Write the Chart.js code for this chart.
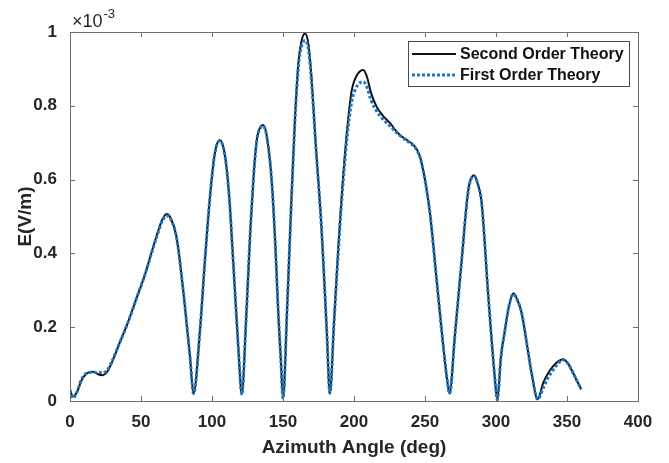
<!DOCTYPE html>
<html>
<head>
<meta charset="utf-8">
<script src="https://cdn.jsdelivr.net/npm/chart.js@4"></script>
<style>
  html, body { margin: 0; padding: 0; background: #fff; }
  #wrap { width: 669px; height: 463px; }
</style>
</head>
<body>
<div id="wrap"><canvas id="fieldChart" width="669" height="463"></canvas></div>
<script>
const angles = [
  0, 2, 5, 8, 12, 16, 20, 23, 26, 29, 35, 41, 47, 53, 58, 62, 65, 68, 71, 75, 80,
  84.5, 87, 91.5, 95, 98.6, 102, 105.5, 109, 112, 115, 118.5, 121, 124, 127, 129.5, 131.5,
  134, 136, 138.5, 142, 144.5, 146.7, 148.5, 150, 153, 156, 158.5, 160.8, 163, 165.5,
  168, 170.2, 173, 177.2, 180.8, 183, 186, 189, 191.3, 195, 198.4, 201, 204, 206.5,
  209, 212, 216, 220, 225.4, 229, 232.4, 237, 241.8, 244.5, 246.5, 250, 253.5, 258.2,
  262.9, 265.5, 267.3, 271, 275.8, 280.5, 284.7, 287, 289.9, 294.6, 299.3, 300.9,
  303.5, 306.3, 309, 312.2, 315, 318.1, 321.5, 325.1, 329.3, 333.3, 336.5, 340.4,
  344, 347.4, 351, 354.4, 358, 360
];

// E (V/m) x 1e-3
const secondOrder = [
  0.030, 0.012, 0.025, 0.055, 0.075, 0.079, 0.072, 0.070, 0.078, 0.100, 0.158, 0.215, 0.280, 0.345, 0.410, 0.460, 0.492, 0.507, 0.495, 0.445, 0.290,
  0.120, 0.020, 0.190, 0.380, 0.554, 0.671, 0.707, 0.668, 0.560, 0.373, 0.147, 0.018, 0.220, 0.463, 0.620, 0.707,
  0.742, 0.748, 0.720, 0.599, 0.430, 0.238, 0.110, 0.007, 0.260, 0.554, 0.770, 0.915, 0.975, 0.996,
  0.965, 0.870, 0.700, 0.463, 0.192, 0.021, 0.220, 0.420, 0.554, 0.730, 0.842, 0.875, 0.893, 0.897,
  0.880, 0.835, 0.797, 0.775, 0.753, 0.735, 0.721, 0.708, 0.694, 0.680, 0.662, 0.600, 0.509, 0.328,
  0.147, 0.060, 0.020, 0.175, 0.380, 0.572, 0.612, 0.590, 0.536, 0.283, 0.057, 0.003,
  0.120, 0.192, 0.255, 0.292, 0.275, 0.238, 0.160, 0.075, 0.005, 0.050, 0.074, 0.095,
  0.108, 0.113, 0.100, 0.075, 0.047, 0.032
];

const firstOrder = [
  0.030, 0.008, 0.025, 0.058, 0.076, 0.078, 0.077, 0.077, 0.083, 0.103, 0.158, 0.215, 0.280, 0.345, 0.408, 0.456, 0.488, 0.502, 0.492, 0.443, 0.290,
  0.120, 0.020, 0.190, 0.380, 0.554, 0.671, 0.705, 0.667, 0.560, 0.373, 0.147, 0.018, 0.220, 0.463, 0.620, 0.705,
  0.740, 0.745, 0.718, 0.599, 0.430, 0.238, 0.110, 0.007, 0.260, 0.550, 0.765, 0.905, 0.960, 0.977,
  0.950, 0.860, 0.695, 0.463, 0.192, 0.021, 0.215, 0.410, 0.540, 0.710, 0.812, 0.845, 0.862, 0.865,
  0.852, 0.815, 0.785, 0.765, 0.745, 0.731, 0.719, 0.706, 0.692, 0.678, 0.660, 0.598, 0.509, 0.328,
  0.147, 0.060, 0.020, 0.175, 0.380, 0.570, 0.610, 0.590, 0.536, 0.283, 0.057, 0.003,
  0.120, 0.192, 0.255, 0.290, 0.274, 0.238, 0.160, 0.075, 0.005, 0.035, 0.062, 0.085,
  0.103, 0.111, 0.100, 0.075, 0.047, 0.032
];

const xTicks = [0, 50, 100, 150, 200, 250, 300, 350, 400];
const yTicks = [0, 0.2, 0.4, 0.6, 0.8, 1];
const seriesLabels = ["Second Order Theory", "First Order Theory"];

const AXIS_COLOR = "#6e6e6e";
const FONT = "'Liberation Sans', Arial, Helvetica, sans-serif";

const toPoints = (vals) => angles.map((a, i) => ({ x: a, y: vals[i] }));

// MATLAB-like box, inward ticks, legend and the exponent label
const matlabAxes = {
  id: "matlabAxes",
  afterDatasetsDraw(chart) {
    const { ctx, chartArea: ca, scales } = chart;
    const tick = 5;
    ctx.save();
    ctx.strokeStyle = AXIS_COLOR;
    ctx.lineWidth = 1;
    ctx.strokeRect(ca.left + 0.5, ca.top + 0.5, ca.right - ca.left, ca.bottom - ca.top);

    ctx.beginPath();
    xTicks.forEach((v) => {
      const px = Math.round(scales.x.getPixelForValue(v)) + 0.5;
      ctx.moveTo(px, ca.bottom);
      ctx.lineTo(px, ca.bottom - tick);
      ctx.moveTo(px, ca.top);
      ctx.lineTo(px, ca.top + tick);
    });
    yTicks.forEach((v) => {
      const py = Math.round(scales.y.getPixelForValue(v)) + 0.5;
      ctx.moveTo(ca.left, py);
      ctx.lineTo(ca.left + tick, py);
      ctx.moveTo(ca.right, py);
      ctx.lineTo(ca.right - tick, py);
    });
    ctx.stroke();

    // exponent label
    ctx.fillStyle = "#262626";
    ctx.textBaseline = "alphabetic";
    ctx.textAlign = "left";
    ctx.font = "18px " + FONT;
    ctx.fillText("\u00d710", ca.left + 2, ca.top - 5);
    const w = ctx.measureText("\u00d710").width;
    ctx.font = "13px " + FONT;
    ctx.fillText("-3", ca.left + 2 + w + 1, ca.top - 14);

    // legend
    const lw = 221, lh = 45;
    const lx = ca.right - 9 - lw, ly = ca.top + 9;
    ctx.fillStyle = "#fff";
    ctx.fillRect(lx, ly, lw, lh);
    ctx.strokeStyle = "#4a4a4a";
    ctx.strokeRect(lx + 0.5, ly + 0.5, lw, lh);
    chart.data.datasets.forEach((ds, i) => {
      const row = ly + 13 + i * 21;
      ctx.beginPath();
      ctx.strokeStyle = ds.borderColor;
      ctx.lineWidth = ds.borderWidth;
      ctx.setLineDash(ds.borderDash || []);
      ctx.moveTo(lx + 4, row);
      ctx.lineTo(lx + 48, row);
      ctx.stroke();
      ctx.setLineDash([]);
      ctx.fillStyle = "#111";
      ctx.font = "bold 16px " + FONT;
      ctx.textBaseline = "middle";
      ctx.fillText(ds.label, lx + 52, row + 1);
    });
    ctx.restore();
  },
};

new Chart(document.getElementById("fieldChart"), {
  type: "line",
  data: {
    datasets: [
      {
        label: seriesLabels[0],
        data: toPoints(secondOrder),
        borderColor: "#111111",
        borderWidth: 2,
        pointRadius: 0,
        cubicInterpolationMode: "monotone",
        order: 2,
      },
      {
        label: seriesLabels[1],
        data: toPoints(firstOrder),
        borderColor: "#1f77c0",
        borderWidth: 3,
        borderDash: [3, 2],
        pointRadius: 0,
        cubicInterpolationMode: "monotone",
        order: 1,
      },
    ],
  },
  options: {
    responsive: false,
    animation: false,
    layout: { padding: { top: 32, right: 31, left: 0, bottom: 0 } },
    plugins: {
      legend: { display: false },
      tooltip: { enabled: false },
    },
    scales: {
      x: {
        type: "linear",
        min: 0,
        max: 400,
        afterBuildTicks: (s) => { s.ticks = xTicks.map((v) => ({ value: v })); },
        afterFit: (s) => { s.height = 62; },
        grid: { display: false },
        border: { display: false },
        ticks: {
          color: "#262626",
          padding: 3,
          maxRotation: 0,
          font: { family: FONT, size: 17, weight: "bold" },
        },
        title: {
          display: true,
          text: "Azimuth Angle (deg)",
          color: "#262626",
          padding: { top: 0, bottom: 4 },
          font: { family: FONT, size: 19, weight: "bold" },
        },
      },
      y: {
        type: "linear",
        min: 0,
        max: 1,
        afterBuildTicks: (s) => { s.ticks = yTicks.map((v) => ({ value: v })); },
        afterFit: (s) => { s.width = 70; },
        grid: { display: false },
        border: { display: false },
        ticks: {
          color: "#262626",
          padding: 5,
          font: { family: FONT, size: 17, weight: "bold" },
          callback: (v) => (v === 0 || v === 1 ? String(v) : v.toFixed(1)),
        },
        title: {
          display: true,
          text: "E(V/m)",
          color: "#262626",
          padding: { top: 14, bottom: 0 },
          font: { family: FONT, size: 19, weight: "bold" },
        },
      },
    },
  },
  plugins: [matlabAxes],
});
</script>
</body>
</html>
